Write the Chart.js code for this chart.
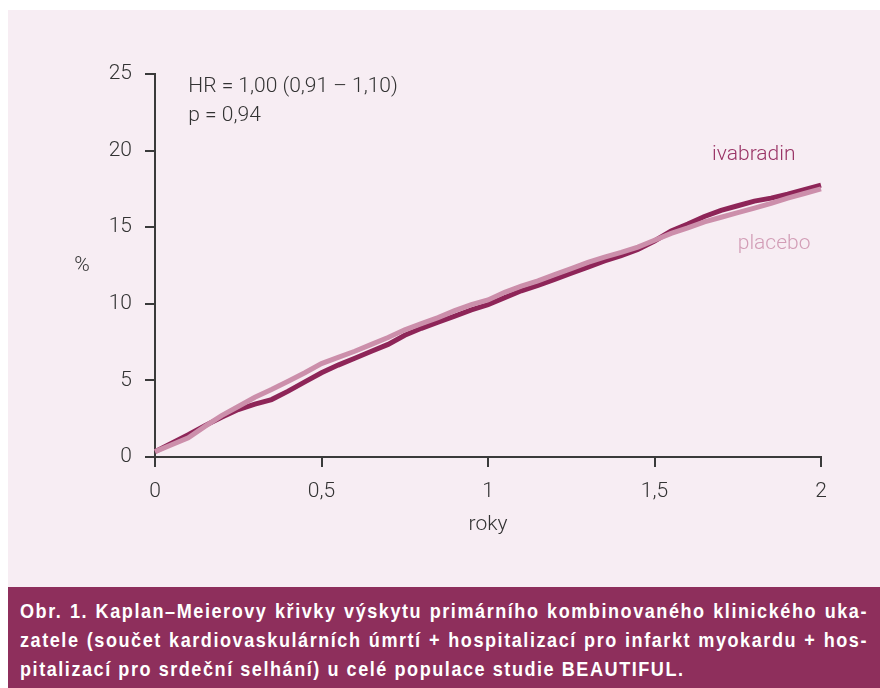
<!DOCTYPE html>
<html>
<head>
<meta charset="utf-8">
<script src="https://cdn.jsdelivr.net/npm/chart.js@4.4.1/dist/chart.umd.min.js"></script>
<style>
  html, body { margin: 0; padding: 0; background: #ffffff; }
  #stage { position: relative; width: 880px; height: 688px; overflow: hidden; }
  #panel { position: absolute; left: 8px; top: 10px; width: 872px; height: 577px; background: #f7edf3; }
  #caption {
    position: absolute; left: 8px; top: 587px; width: 872px; height: 101px;
    background: #8e2f5c; color: #ffffff; box-sizing: border-box; padding: 9px 12px 0 12px;
  }
  #caption .in {
    width: 986px; transform: scaleX(0.86); transform-origin: 0 0;
    font-family: "Liberation Sans", Arial, sans-serif;
    font-weight: bold; font-size: 21px; line-height: 29px; letter-spacing: 1.8px;
  }
  #caption .j { text-align: justify; text-align-last: justify; white-space: nowrap; }
  #fazer { position: absolute; left: 0; top: 0; }
</style>
</head>
<body>
<div id="stage">
  <div id="panel"></div>
  <canvas id="fazer" width="880" height="688"></canvas>
  <div id="caption"><div class="in">
    <div class="j">Obr. 1. Kaplan–Meierovy křivky výskytu primárního kombinovaného klinického uka-</div>
    <div class="j">zatele (součet kardiovaskulárních úmrtí + hospitalizací pro infarkt myokardu + hos-</div>
    <div>pitalizací pro srdeční selhání) u celé populace studie BEAUTIFUL.</div>
  </div></div>
</div>
<script>
const roky = [0, 0.05, 0.1, 0.15, 0.2, 0.25, 0.3, 0.35, 0.4, 0.45, 0.5, 0.55, 0.6, 0.65, 0.7, 0.75, 0.8, 0.85, 0.9, 0.95,
              1.0, 1.05, 1.1, 1.15, 1.2, 1.25, 1.3, 1.35, 1.4, 1.45, 1.5, 1.55, 1.6, 1.65, 1.7, 1.75, 1.8, 1.85, 1.9, 1.95, 2.0];
const placebo = [0.35, 0.8, 1.25, 2.0, 2.7, 3.3, 3.9, 4.4, 4.95, 5.5, 6.1, 6.5, 6.9, 7.35, 7.8, 8.3, 8.7, 9.1, 9.55, 9.95,
                 10.25, 10.75, 11.15, 11.5, 11.9, 12.3, 12.7, 13.05, 13.35, 13.7, 14.15, 14.6, 14.95, 15.35, 15.65, 15.95, 16.25, 16.55, 16.9, 17.2, 17.5];
const ivabradin = [0.35, 0.9, 1.45, 2.05, 2.6, 3.1, 3.45, 3.75, 4.3, 4.9, 5.5, 6.0, 6.45, 6.9, 7.35, 7.95, 8.4, 8.8, 9.2, 9.6,
                   9.95, 10.4, 10.85, 11.2, 11.6, 12.0, 12.4, 12.8, 13.15, 13.55, 14.1, 14.75, 15.2, 15.7, 16.1, 16.4, 16.7, 16.9, 17.15, 17.45, 17.75];
const xTicks = [0, 0.5, 1, 1.5, 2];
const yTicks = [0, 5, 10, 15, 20, 25];

const canvas_grafico = document.getElementById('fazer');
const ctx = canvas_grafico.getContext('2d');
const pismo = 'Roboto, "Liberation Sans", sans-serif';
const osa = '#3a3a3a';

const popisky = {
    id: 'popisky',
    afterDraw(chart) {
        const c = chart.ctx;
        const sx = chart.scales.x;
        const sy = chart.scales.y;
        c.save();
        c.font = '300 21px ' + pismo;
        c.textBaseline = 'middle';
        c.fillStyle = '#333333';
        c.textAlign = 'left';
        c.fillText('HR = 1,00 (0,91 – 1,10)', sx.getPixelForValue(0.1), sy.getPixelForValue(24.15));
        c.fillText('p = 0,94', sx.getPixelForValue(0.1), sy.getPixelForValue(22.25));
        c.textAlign = 'center';
        c.fillText('%', 82, sy.getPixelForValue(12.5));
        c.fillText('roky', sx.getPixelForValue(1), 525);
        c.textAlign = 'left';
        c.fillStyle = '#9a3466';
        c.fillText('ivabradin', sx.getPixelForValue(1.673), sy.getPixelForValue(19.7));
        c.fillStyle = '#d29db6';
        c.fillText('placebo', sx.getPixelForValue(1.75), sy.getPixelForValue(13.95));
        c.restore();
    }
};

new Chart(ctx, {
    type: 'line',
    data: {
        datasets: [
            {
                label: 'placebo',
                data: roky.map((r, i) => ({ x: r, y: placebo[i] })),
                borderColor: '#cc8fab',
                borderWidth: 5,
                pointRadius: 0,
                tension: 0,
                clip: false,
            },
            {
                label: 'ivabradin',
                data: roky.map((r, i) => ({ x: r, y: ivabradin[i] })),
                borderColor: '#8e2558',
                borderWidth: 5,
                pointRadius: 0,
                tension: 0,
                clip: false,
            },
        ],
    },
    options: {
        responsive: false,
        animation: false,
        devicePixelRatio: 1,
        layout: { padding: { left: 0, top: 74, right: 59, bottom: 0 } },
        plugins: { legend: { display: false }, tooltip: { enabled: false } },
        scales: {
            x: {
                type: 'linear',
                min: 0,
                max: 2,
                afterBuildTicks: s => { s.ticks = xTicks.map(v => ({ value: v })); },
                afterFit: s => { s.height = 688 - 457; },
                ticks: {
                    padding: 12,
                    color: '#333333',
                    font: { family: pismo, size: 21, weight: '300' },
                    callback: v => String(v).replace('.', ','),
                },
                grid: { drawOnChartArea: false, tickLength: 10, color: osa, lineWidth: 2 },
                border: { display: true, color: osa, width: 2 },
            },
            y: {
                min: 0,
                max: 25,
                afterBuildTicks: s => { s.ticks = yTicks.map(v => ({ value: v })); },
                afterFit: s => { s.width = 155; },
                ticks: {
                    padding: 13,
                    color: '#333333',
                    font: { family: pismo, size: 21, weight: '300' },
                },
                grid: { drawOnChartArea: false, tickLength: 10, color: osa, lineWidth: 2 },
                border: { display: true, color: osa, width: 2 },
            },
        },
    },
    plugins: [popisky],
});
</script>
</body>
</html>
